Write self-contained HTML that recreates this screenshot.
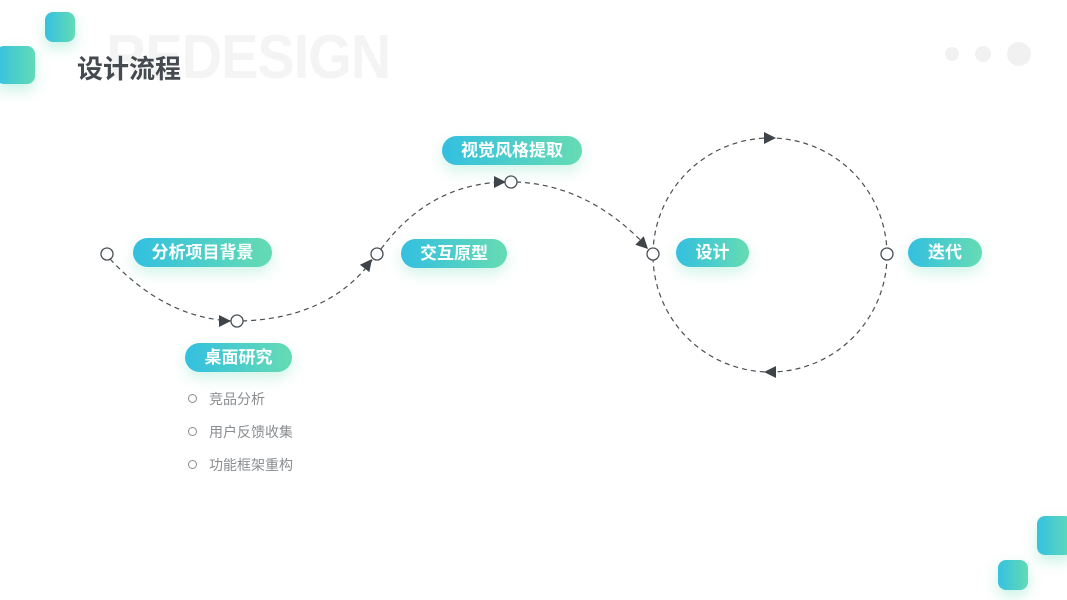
<!DOCTYPE html>
<html><head><meta charset="utf-8"><style>
html,body{margin:0;padding:0;background:#fff;}
body{width:1067px;height:600px;position:relative;overflow:hidden;font-family:"Liberation Sans","Noto Sans CJK SC",sans-serif;}
.sq{position:absolute;border-radius:8px;background:linear-gradient(90deg,#36c1e0,#62dbb5);box-shadow:0 6px 14px rgba(98,219,181,.35);}
.pill{position:absolute;height:29px;border-radius:15px;background:linear-gradient(90deg,#33c0e0,#66dbb3);color:#fff;font-weight:bold;font-size:17px;line-height:29px;text-align:center;box-shadow:0 6px 14px rgba(102,219,179,.3);}
.bg{position:absolute;left:106px;top:22px;font-size:62px;font-weight:bold;color:#f4f4f4;transform:scaleX(0.9);transform-origin:0 0;letter-spacing:-1px;}
.title{position:absolute;left:77px;top:49px;font-size:26px;font-weight:bold;color:#454a50;}
.li{position:absolute;left:188px;font-size:14px;color:#8a8d90;}
.li span{display:inline-block;width:7px;height:7px;border:1.2px solid #8a8d90;border-radius:50%;margin-right:12px;vertical-align:1px;}
</style></head><body>
<div class="bg">REDESIGN</div>
<div class="sq" style="left:45px;top:12px;width:30px;height:30px;"></div>
<div class="sq" style="left:-4px;top:46px;width:39px;height:38px;"></div>
<div class="sq" style="left:1037px;top:516px;width:36px;height:39px;"></div>
<div class="sq" style="left:998px;top:560px;width:30px;height:30px;"></div>
<div class="title">设计流程</div>
<svg width="1067" height="600" style="position:absolute;left:0;top:0">
<circle cx="952" cy="54" r="7" fill="#f1f1f1"/>
<circle cx="983" cy="54" r="8" fill="#f1f1f1"/>
<circle cx="1019" cy="54" r="12" fill="#f1f1f1"/>
<g fill="none" stroke="#4a4f55" stroke-width="1.2" stroke-dasharray="5,4">
<path d="M110,259 Q165,318 232,321"/>
<path d="M242,321 Q330,318 373,259"/>
<path d="M381,249 Q430,183 506,182"/>
<path d="M516,182 Q590,185 649,249"/>
<circle cx="770" cy="255" r="117"/>
</g>
<g fill="#3f444a">
<polygon points="0,0 -12,-6 -12,6" transform="translate(231,321)"/>
<polygon points="0,0 -12,-6 -12,6" transform="translate(372,259) rotate(-52)"/>
<polygon points="0,0 -12,-6 -12,6" transform="translate(506,182)"/>
<polygon points="0,0 -12,-6 -12,6" transform="translate(648,249) rotate(45)"/>
<polygon points="0,0 -12,-6 -12,6" transform="translate(776,138)"/>
<polygon points="0,0 -12,-6 -12,6" transform="translate(764,372) rotate(180)"/>
</g>
<g fill="#fff" stroke="#4a4f55" stroke-width="1.3">
<circle cx="107" cy="254" r="6"/>
<circle cx="237" cy="321" r="6"/>
<circle cx="377" cy="254" r="6"/>
<circle cx="511" cy="182" r="6"/>
<circle cx="653" cy="254" r="6"/>
<circle cx="887" cy="254" r="6"/>
</g>
</svg>
<div class="pill" style="left:133px;top:238px;width:139px;">分析项目背景</div>
<div class="pill" style="left:185px;top:343px;width:107px;">桌面研究</div>
<div class="pill" style="left:401px;top:239px;width:106px;">交互原型</div>
<div class="pill" style="left:442px;top:136px;width:140px;">视觉风格提取</div>
<div class="pill" style="left:676px;top:238px;width:73px;">设计</div>
<div class="pill" style="left:908px;top:238px;width:74px;">迭代</div>
<div class="li" style="top:389px;"><span></span>竞品分析</div>
<div class="li" style="top:422px;"><span></span>用户反馈收集</div>
<div class="li" style="top:455px;"><span></span>功能框架重构</div>
</body></html>
